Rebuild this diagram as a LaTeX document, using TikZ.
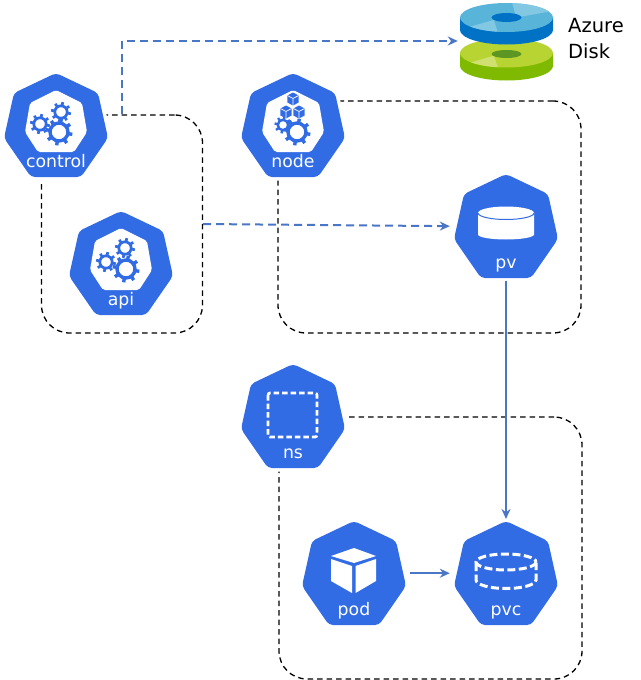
\documentclass[tikz,border=0pt]{standalone}
\usepackage{fontspec}
\setmainfont{DejaVu Sans}
\usetikzlibrary{arrows.meta}
\definecolor{kblue}{HTML}{326CE5}
\definecolor{linkblue}{HTML}{4A76C6}
\newcommand{\kgear}[5]{% x y ring-radius outer-radius width
  \begin{scope}[shift={(#1,#2)}]
    \draw[kblue,line width=#5 pt] (0,0) circle (#3);
    \foreach \a in {10,55,...,325} \draw[kblue,line width=#5 pt] (\a:#3) -- (\a:#4);
  \end{scope}}
\newcommand{\kcube}[2]{%
  \begin{scope}[shift={(#1,#2)}]
    \fill[kblue] (0,-6.5) -- (5.6,-3.5) -- (5.6,3.5) -- (0,6.5) -- (-5.6,3.5) -- (-5.6,-3.5) -- cycle;
    \draw[white,line width=.7pt] (-5.6,-3.5) -- (0,-.5) -- (5.6,-3.5) (0,-.5) -- (0,6.5);
  \end{scope}}
\newcommand{\khept}[2]{% top x, top y: blue heptagon with its white halo
  \begin{scope}[shift={(#1,#2)}]
    \draw[white,line width=7pt,line join=round] (0,0) -- (42,20) -- (52,65) -- (25,104) -- (-25,104) -- (-52,65) -- (-42,20) -- cycle;
    \fill[kblue,rounded corners=4pt] (0,0) -- (42,20) -- (52,65) -- (25,104) -- (-25,104) -- (-52,65) -- (-42,20) -- cycle;
  \end{scope}}
\newcommand{\kinner}[2]{%
  \fill[white,rounded corners=2pt,shift={(#1,#2)}] (0,17) -- (26,30) -- (31,59) -- (18,79) -- (-18,79) -- (-31,59) -- (-26,30) -- cycle;}
\tikzset{
  x=1pt,y=-1pt,
  groupbox/.style={draw=black,line width=1.3pt,rounded corners=28pt,inner sep=0pt,dash pattern=on 5.5pt off 4pt},
  hexarea/.style={inner sep=0pt,minimum width=104pt,minimum height=104pt,anchor=north},
  klabel/.style={white,anchor=base,inner sep=0pt,font=\fontsize{17.3}{20}\selectfont},
  dashlink/.style={draw=linkblue,line width=2pt,dash pattern=on 8pt off 5pt,-{Stealth[length=10pt,width=9pt]}},
  solidlink/.style={draw=linkblue,line width=2pt,-{Stealth[length=10pt,width=9pt]}},
  whitedash/.style={draw=white,line width=2.6pt,dash pattern=on 5.5pt off 3pt,rounded corners=2pt}
}
\begin{document}
\begin{tikzpicture}
\useasboundingbox (0,0) rectangle (640,680);
\fill[white] (0,0) rectangle (640,680);

% dashed group boxes
\node[groupbox,minimum width=161pt,minimum height=218pt] (ctlbox) at (122,224) {};
\node[groupbox,minimum width=303pt,minimum height=232pt] (nodebox) at (429.5,217) {};
\node[groupbox,minimum width=303pt,minimum height=262pt] (nsbox) at (430.5,548) {};

% heptagons
\khept{56}{73}\khept{293}{73}\khept{121}{211}\khept{506}{174}\khept{293}{364}\khept{354}{521}\khept{506}{521}
\node[hexarea] (control) at (56,73) {};
\node[hexarea] (nodehex) at (293,73) {};
\node[hexarea] (api) at (121,211) {};
\node[hexarea] (pv) at (506,174) {};
\node[hexarea] (ns) at (293,364) {};
\node[hexarea] (pod) at (354,521) {};
\node[hexarea] (pvc) at (506,521) {};

% control icon
\kinner{56}{73}
\kgear{59}{132}{9}{13.5}{3.4}
\kgear{40}{124}{6.2}{10}{2.7}
\kgear{61}{112}{6.2}{10}{2.7}
% api icon
\kinner{121}{211}
\kgear{126}{269}{9}{13.5}{3.4}
\kgear{106}{262}{6.2}{10}{2.7}
\kgear{125}{248}{6.2}{10}{2.7}
% node icon
\kinner{293}{73}
\kgear{297}{132}{9}{13.5}{3.4}
\kgear{283}{125}{5.2}{8.5}{2.4}
\kcube{293}{99}\kcube{286}{112}\kcube{299}{112}
% pv icon
\fill[white] (478,213) -- (478,234.5) arc[start angle=180,end angle=360,x radius=28,y radius=-5] -- (534,213) -- cycle;
\fill[white] (506,213) ellipse[x radius=28,y radius=6.5];
\draw[kblue,line width=1pt] (478,213) arc[start angle=180,end angle=360,x radius=28,y radius=-6.5];
% ns icon
\draw[whitedash] (268,393) rectangle (317,437);
% pod icon
\fill[white] (354,548) -- (376,556) -- (354,563) -- (331,556) -- cycle;
\fill[white] (331,559) -- (352,566) -- (352,593) -- (331,581) -- cycle;
\fill[white] (355.5,566) -- (376,559) -- (376,581) -- (355.5,593) -- cycle;
% pvc icon
\draw[whitedash,line width=3pt,dash pattern=on 8pt off 3.5pt] (506,562) ellipse[x radius=30,y radius=8];
\draw[whitedash,line width=3pt,dash pattern=on 8pt off 3.5pt,rounded corners=0pt] (476,563) -- (476,580) arc[start angle=180,end angle=360,x radius=30,y radius=-8.5] -- (536,563);

% labels
\node[klabel] (controllabel) at (56,167) {control};
\node[klabel] (nodelabel) at (293,167) {node};
\node[klabel] (apilabel) at (121,305) {api};
\node[klabel] (pvlabel) at (506,268) {pv};
\node[klabel] (nslabel) at (293,458) {ns};
\node[klabel] (podlabel) at (354,615) {pod};
\node[klabel] (pvclabel) at (506,615) {pvc};

% Azure disk
\fill[color={rgb,255:red,127;green,186;blue,0}] (460,53) -- (460,66) arc[start angle=180,end angle=360,x radius=46.5,y radius=-14.5] -- (553,53) -- cycle;
\fill[color={rgb,255:red,184;green,212;blue,50}] (506.5,53) ellipse[x radius=46.5,y radius=14.5];
\begin{scope}
  \clip (506.5,53) ellipse[x radius=46.5,y radius=14.5];
  \fill[color={rgb,255:red,208;green,224;blue,112}] (493.8,55.7) -- (465.5,64) -- (498.5,69) -- cycle;
\end{scope}
\fill[color={rgb,255:red,94;green,150;blue,36}] (506.5,54) ellipse[x radius=15,y radius=4];
\fill[color={rgb,255:red,0;green,114;blue,198}] (460,17) -- (460,30) arc[start angle=180,end angle=360,x radius=46.5,y radius=-14.5] -- (553,17) -- cycle;
\fill[color={rgb,255:red,89;green,180;blue,217}] (506.5,17.5) ellipse[x radius=46.5,y radius=14.5];
\begin{scope}
  \clip (506.5,17.5) ellipse[x radius=46.5,y radius=14.5];
  \fill[color={rgb,255:red,130;green,200;blue,226}] (515.5,15.5) -- (512,2) -- (543.5,3) -- (558,10) -- (522,16.5) -- cycle;
  \fill[color={rgb,255:red,130;green,200;blue,226}] (493.8,20) -- (465.5,28) -- (498.5,34) -- cycle;
\end{scope}
\fill[color={rgb,255:red,0;green,114;blue,198}] (506.5,17.5) ellipse[x radius=15,y radius=4.5];
\node[inner sep=0pt,minimum width=93pt,minimum height=78pt] (disk) at (506.5,41) {};
\node[anchor=base west,inner sep=0pt,font=\fontsize{19.5}{24}\selectfont] (azure) at (568,32) {Azure};
\node[anchor=base west,inner sep=0pt,font=\fontsize{19.5}{24}\selectfont] (disklabel) at (568,58) {Disk};

% connectors
\draw[dashlink,shorten >=2pt] (ctlbox.north) |- (disk.west);
\draw[dashlink,shorten >=4pt] (ctlbox.east) -- (pv.west);
\draw[solidlink,shorten <=3pt,shorten >=2pt] (pv.south) -- (pvc.north);
\draw[solidlink,shorten <=4pt,shorten >=4pt] (pod.east) -- (pvc.west);
\end{tikzpicture}
\end{document}
